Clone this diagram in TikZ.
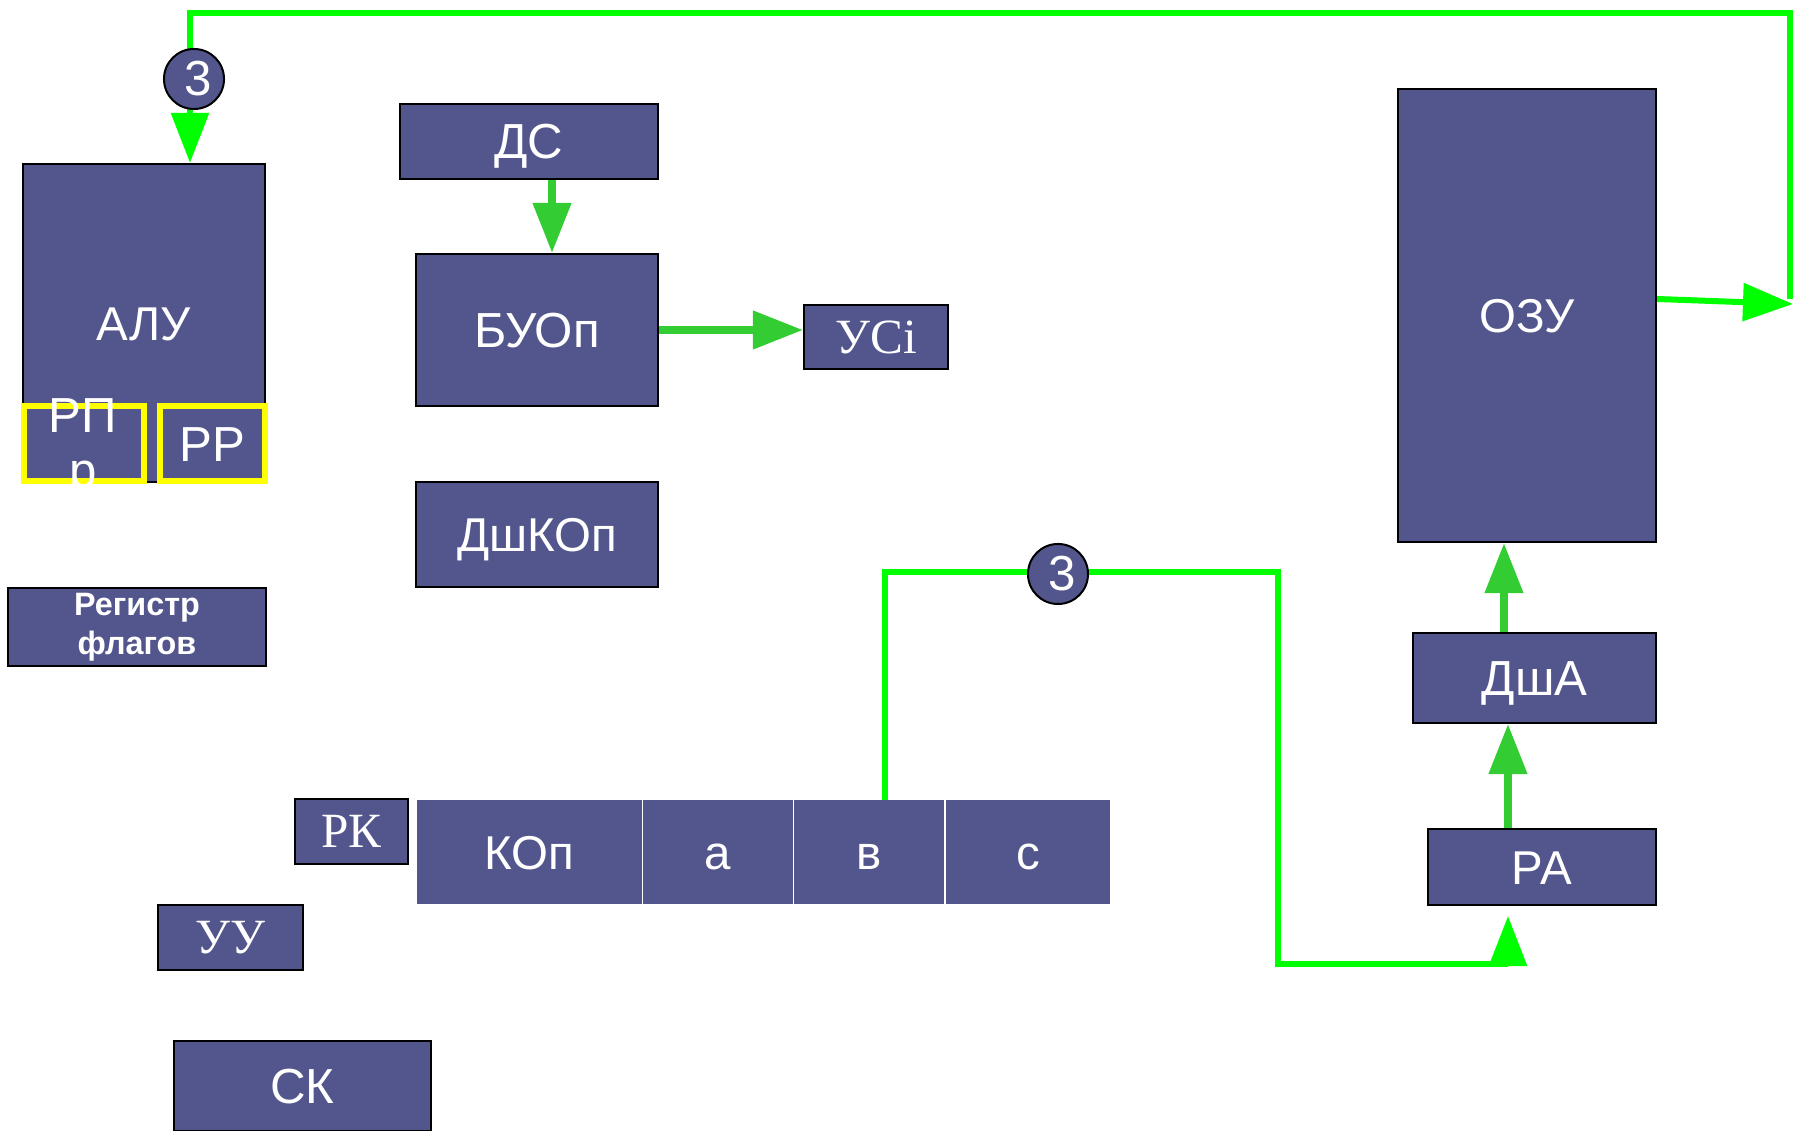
\documentclass[tikz,border=0pt]{standalone}
\usepackage{fontspec}
\setmainfont{Liberation Sans}
\newfontfamily\timesf{Liberation Serif}
\usetikzlibrary{arrows.meta}

\definecolor{blokfill}{RGB}{83,86,140}
\definecolor{busgreen}{RGB}{0,255,0}
\definecolor{arrgreen}{RGB}{51,204,51}
\definecolor{regyellow}{RGB}{255,255,0}

\tikzset{
  plainblok/.style={draw=black, line width=0.02cm, fill=blokfill, text=white, inner sep=0pt},
  blok/.style={plainblok, text height=9.8pt, text depth=0pt,
    font=\fontsize{13.5pt}{16pt}\selectfont},
  regbox/.style={draw=regyellow, line width=0.06cm, fill=blokfill, text=white, inner sep=0pt,
    text height=10pt, text depth=0pt, font=\fontsize{14pt}{16pt}\selectfont},
  field/.style={draw=white, line width=0.01cm, fill=blokfill, text=white, inner sep=0pt,
    text height=9.8pt, text depth=0pt,
    minimum height=1.04cm, font=\fontsize{13.5pt}{15pt}\selectfont},
  serifblok/.style={plainblok, font=\timesf\fontsize{14pt}{16pt}\selectfont},
  point/.style={circle, draw=black, line width=0.02cm, fill=blokfill, text=white,
    minimum size=0.6cm, inner sep=0pt, font=\fontsize{14pt}{15pt}\selectfont},
  bus/.style={draw=busgreen, line width=0.06cm},
  feed/.style={draw=arrgreen, line width=0.075cm},
  tip/.style={-{Triangle[length=0.5cm,width=0.37cm]}},
}

\begin{document}
\begin{tikzpicture}[x=0.01cm, y=-0.01cm]
\useasboundingbox (0,0) rectangle (1793,1131);

% left column
\node[blok, minimum width=2.42cm, minimum height=3.18cm] (alu) at (144,323) {АЛУ};
\node[regbox, minimum width=1.2cm, minimum height=0.75cm] (rpr) at (84,443.5) {};
\node[regbox, minimum width=1.05cm, minimum height=0.75cm] (rr) at (212.5,443.5) {РР};
\begin{scope}
\clip (0,390) rectangle (160,484);
\node[text=white, inner sep=0pt, anchor=base, font=\fontsize{14pt}{16pt}\selectfont] (rprtop) at (83,433) {РП};
\node[text=white, inner sep=0pt, anchor=base, font=\fontsize{14pt}{16pt}\selectfont] (rprbot) at (83,488) {р};
\end{scope}
\node[plainblok, minimum width=2.58cm, minimum height=0.77cm, align=center,
  font=\bfseries\fontsize{9.2pt}{11.2pt}\selectfont] (flags) at (137,627) {Регистр\\флагов};
\node[serifblok, minimum width=1.13cm, minimum height=0.65cm] (rk) at (351.5,831.5) {РК};
\node[serifblok, minimum width=1.45cm, minimum height=0.65cm] (uu) at (230.5,937.5) {УУ};
\node[blok, minimum width=2.57cm, minimum height=0.9cm, font=\fontsize{14pt}{16pt}\selectfont] (sk) at (302.5,1086) {СК};

% middle column
\node[blok, minimum width=2.58cm, minimum height=0.75cm, font=\fontsize{14pt}{16pt}\selectfont] (ds) at (529,141.5) {ДС};
\node[blok, minimum width=2.42cm, minimum height=1.52cm, font=\fontsize{14pt}{16pt}\selectfont] (buop) at (537,330) {БУОп};
\node[blok, minimum width=2.42cm, minimum height=1.05cm] (dshkop) at (537,534.5) {ДшКОп};
\node[serifblok, minimum width=1.44cm, minimum height=0.64cm] (usi) at (876,337) {УСi};

% command register fields
\node[field, minimum width=2.25cm] (kop) at (529.5,852) {КОп};
\node[field, minimum width=1.5cm] (fa) at (718,852) {а};
\node[field, minimum width=1.5cm] (fv) at (869,852) {в};
\node[field, minimum width=1.64cm] (fc) at (1028,852) {с};

% memory
\node[blok, minimum width=2.58cm, minimum height=4.53cm] (ozu) at (1527,315.5) {ОЗУ};
\node[blok, minimum width=2.43cm, minimum height=0.9cm, font=\fontsize{14pt}{16pt}\selectfont] (dsha) at (1534.5,678) {ДшА};
\node[blok, minimum width=2.28cm, minimum height=0.76cm] (ra) at (1542,867) {РА};

% short arrows
\draw[feed, tip] ([xshift=0.23cm]ds.south) -- ([xshift=0.23cm]ds.south |- buop.north);
\draw[feed, tip] (buop.east) -- (buop.east -| usi.west);
\draw[feed, tip] ([xshift=-0.305cm]dsha.north) -- ([xshift=-0.305cm]dsha.north |- ozu.south);
\draw[feed, tip] ([xshift=-0.34cm]ra.north) -- ([xshift=-0.34cm]ra.north |- dsha.south);

% buses
\coordinate (edge) at (1793,304);
\coordinate (bus1) at (1790,299);
\coordinate (top) at (190,13);
\draw[bus, tip] ([yshift=0.165cm]ozu.east) -- (edge);
\draw[bus, tip] (bus1) |- (top) -- (alu.north -| top);
\coordinate (vtop) at (885,800);
\coordinate (turn) at (1278,572);
\coordinate (raup) at (1508,964);
\draw[bus, tip, shorten >=0.1cm] (vtop) |- (turn) |- (raup) -- (ra.south -| raup);

\node[point] (p1) at (194,79) {\,3};
\node[point] (p2) at (1058,574) {\,3};
\end{tikzpicture}
\end{document}
